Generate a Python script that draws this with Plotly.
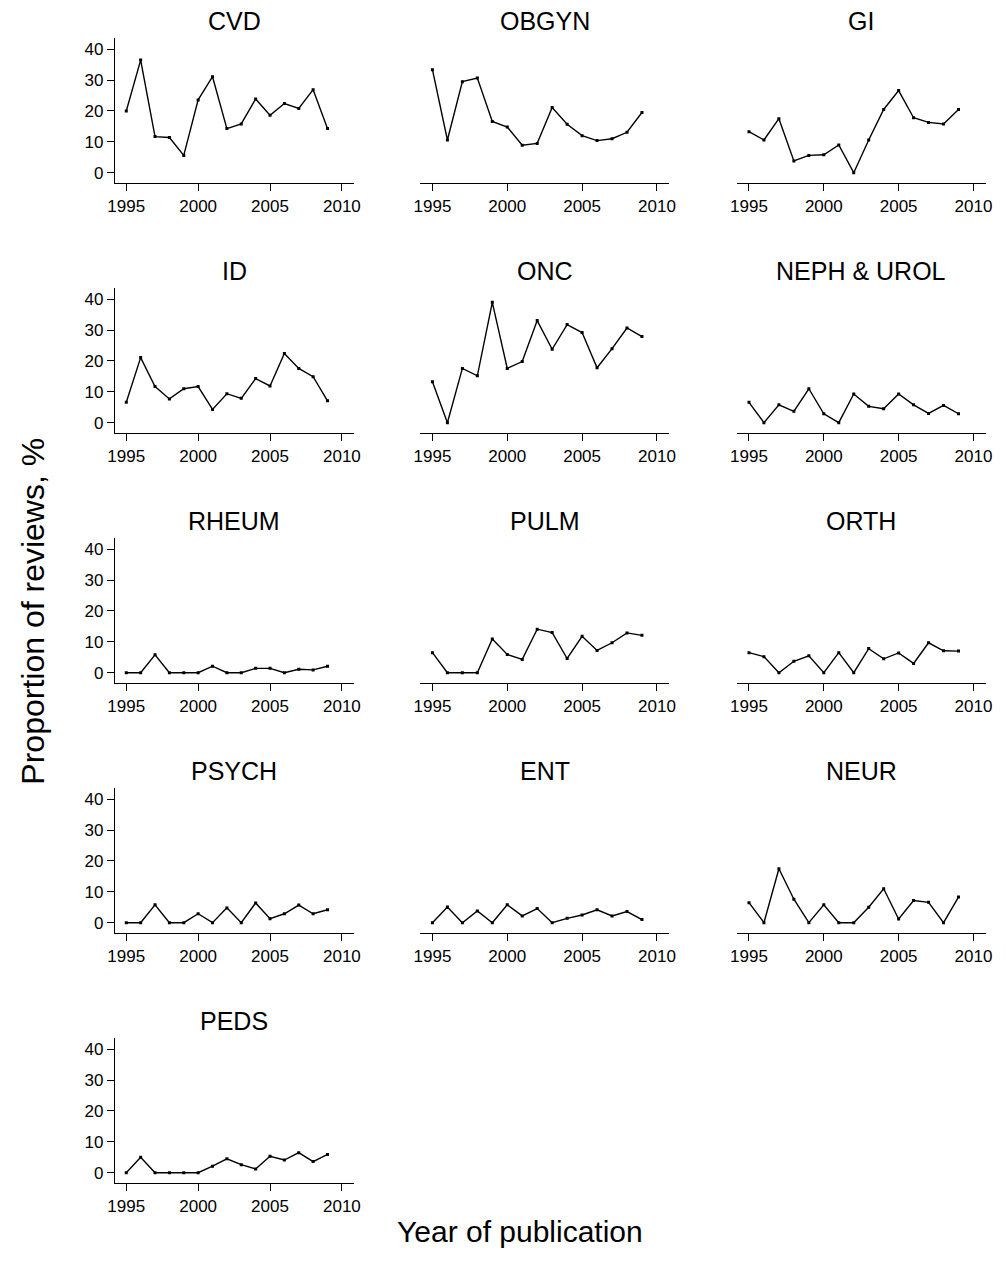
import plotly.graph_objects as go

years = list(range(1995, 2010))

specialties = ["CVD", "OBGYN", "GI", "ID", "ONC", "NEPH & UROL", "RHEUM", "PULM",
               "ORTH", "PSYCH", "ENT", "NEUR", "PEDS"]

cvd = [20.0, 36.5, 11.7, 11.4, 5.6, 23.6, 31.1, 14.3, 15.8, 23.9, 18.6, 22.4, 20.8, 26.9, 14.3]
obgyn = [33.4, 10.6, 29.5, 30.7, 16.6, 14.8, 8.9, 9.5, 21.1, 15.7, 12.0, 10.4, 11.0, 13.1, 19.5]
gi = [13.3, 10.6, 17.5, 3.8, 5.6, 5.8, 9.0, 0.0, 10.6, 20.5, 26.6, 17.8, 16.3, 15.8, 20.5]
id_ = [6.6, 21.1, 11.7, 7.7, 11.0, 11.7, 4.3, 9.4, 7.9, 14.3, 11.9, 22.4, 17.6, 14.9, 7.1]
onc = [13.3, 0.0, 17.6, 15.2, 39.0, 17.6, 19.8, 33.1, 23.8, 31.8, 29.2, 17.8, 24.0, 30.7, 27.9]
neph_urol = [6.6, 0.0, 5.8, 3.7, 11.0, 2.9, 0.0, 9.3, 5.3, 4.5, 9.3, 5.8, 3.0, 5.6, 2.9]
rheum = [0.0, 0.0, 5.8, 0.0, 0.0, 0.0, 2.1, 0.0, 0.0, 1.4, 1.4, 0.0, 1.1, 0.9, 2.1]
pulm = [6.5, 0.0, 0.0, 0.0, 10.9, 5.9, 4.3, 14.1, 13.0, 4.6, 11.8, 7.2, 9.7, 12.9, 12.1]
orth = [6.5, 5.2, 0.0, 3.7, 5.5, 0.0, 6.5, 0.0, 7.8, 4.5, 6.4, 3.0, 9.7, 7.1, 7.0]
psych = [0.0, 0.0, 5.8, 0.0, 0.0, 2.9, 0.0, 4.8, 0.0, 6.4, 1.3, 2.9, 5.7, 2.9, 4.2]
ent = [0.0, 5.1, 0.0, 3.8, 0.0, 5.8, 2.2, 4.6, 0.0, 1.4, 2.5, 4.2, 2.2, 3.6, 1.0]
neur = [6.5, 0.0, 17.5, 7.6, 0.0, 5.8, 0.0, 0.0, 5.0, 11.0, 1.2, 7.2, 6.6, 0.0, 8.3]
peds = [0.0, 5.0, 0.0, 0.0, 0.0, 0.0, 2.1, 4.5, 2.6, 1.2, 5.3, 4.1, 6.5, 3.6, 5.9]

series = [cvd, obgyn, gi, id_, onc, neph_urol, rheum, pulm, orth, psych, ent, neur, peds]

x_ticks = [1995, 2000, 2005, 2010]
y_ticks = [0, 10, 20, 30, 40]

W, H = 1006, 1277
FONT = "Liberation Sans, Arial, sans-serif"

col_px = [(109.3, 351.7), (419.3, 671.7), (740.3, 992.7)]
row_top0, row_bot0, row_step = 38.3, 183.3, 250.0

fig = go.Figure()
annotations = []

for i, (name, vals) in enumerate(zip(specialties, series)):
    r, c = divmod(i, 3)
    n = i + 1
    xs = "" if n == 1 else str(n)
    x0, x1 = col_px[c]
    top = row_top0 + r * row_step
    bot = row_bot0 + r * row_step
    xdom = [x0 / W, x1 / W]
    ydom = [1 - bot / H, 1 - top / H]

    fig.add_trace(go.Scatter(
        x=years, y=vals, mode="lines+markers",
        line=dict(color="black", width=1.4),
        marker=dict(color="black", size=3, symbol="square"),
        xaxis="x" + xs, yaxis="y" + xs, showlegend=False,
        hovertemplate="%{x}: %{y}<extra>" + name + "</extra>",
    ))

    fig.layout["xaxis" + xs] = dict(
        domain=xdom, anchor="y" + xs, range=[1994.2, 2010.83],
        tickmode="array", tickvals=x_ticks, ticks="outside", ticklen=7,
        tickwidth=1, tickcolor="black", showline=True, linecolor="black",
        linewidth=1, showgrid=False, zeroline=False,
        tickfont=dict(family=FONT, size=17, color="black"),
    )
    ycfg = dict(
        domain=ydom, anchor="x" + xs, range=[-3.44, 43.56],
        showgrid=False, zeroline=False,
    )
    if c == 0:
        ycfg.update(
            tickmode="array", tickvals=y_ticks, ticks="outside", ticklen=7,
            tickwidth=1, tickcolor="black", showline=True, linecolor="black",
            linewidth=1, tickfont=dict(family=FONT, size=17, color="black"),
        )
    else:
        ycfg.update(visible=False)
    fig.layout["yaxis" + xs] = ycfg

    annotations.append(dict(
        text=name, xref="paper", yref="paper",
        x=(x0 + x1) / 2 / W, y=1 - (top - 17) / H,
        xanchor="center", yanchor="middle", showarrow=False,
        font=dict(family=FONT, size=25, color="black"),
    ))

annotations.append(dict(
    text="Proportion of reviews, %", xref="paper", yref="paper",
    x=26 / W, y=1 - 611 / H, xanchor="center", yanchor="middle",
    textangle=-90, showarrow=False,
    font=dict(family=FONT, size=32, color="black"),
))
annotations.append(dict(
    text="Year of publication", xref="paper", yref="paper",
    x=520 / W, y=1 - 1231 / H, xanchor="center", yanchor="middle",
    showarrow=False,
    font=dict(family=FONT, size=30, color="black"),
))

fig.update_layout(
    width=W, height=H, margin=dict(l=0, r=0, t=0, b=0),
    paper_bgcolor="white", plot_bgcolor="white",
    annotations=annotations,
    font=dict(family=FONT, color="black"),
)

fig.write_html("out.html")
